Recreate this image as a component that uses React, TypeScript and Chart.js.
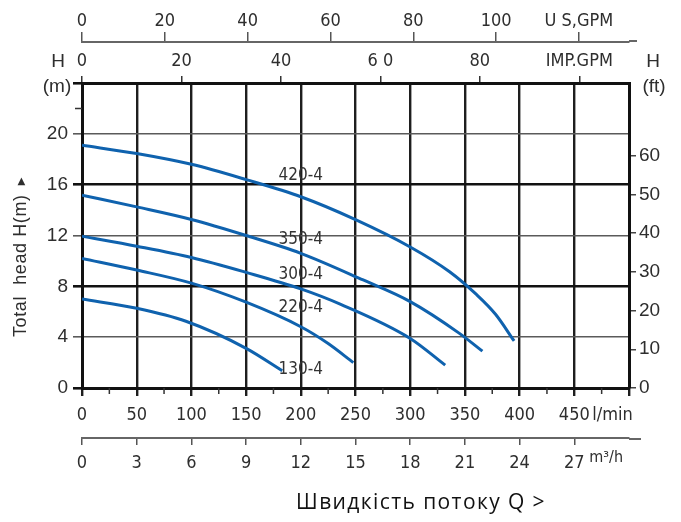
import { useEffect, useRef } from "react";
import { Chart, registerables } from "chart.js";

Chart.register(...registerables);

// ---------- data ----------
const FLOW_MAX_LMIN = 500;
const HEAD_MAX_M = 24;

const LMIN_TICKS = [0, 50, 100, 150, 200, 250, 300, 350, 400, 450, 500];
const LMIN_MINOR_TICKS = [25, 75, 125, 175, 225, 275, 325, 375, 425, 475];
const M3H_TICKS = [0, 3, 6, 9, 12, 15, 18, 21, 24, 27];
const USGPM_TICKS = [0, 20, 40, 60, 80, 100, 120];
const IMPGPM_TICKS = [0, 20, 40, 60, 80, 100];
const HEAD_M_TICKS = [0, 4, 8, 12, 16, 20, 24];
const HEAD_M_MINOR_TICKS = [22];
const HEAD_M_HEAVY = [0, 8, 16, 24];
const HEAD_FT_TICKS = [0, 10, 20, 30, 40, 50, 60];

const M3H_PER_LMIN = 0.06;
const USGPM_PER_LMIN = 0.264172;
const IMPGPM_PER_LMIN = 0.219969;
const FT_PER_M = 3.28084;

const MODELS = ["420-4", "350-4", "300-4", "220-4", "130-4"];

const FLOW_420 = [0, 50, 100, 150, 200, 250, 300, 336, 360, 378, 395];
const HEAD_420 = [19.1, 18.45, 17.6, 16.4, 15.05, 13.25, 11.1, 9.15, 7.4, 5.8, 3.7];

const FLOW_350 = [0, 50, 100, 150, 200, 257, 300, 345, 366];
const HEAD_350 = [15.17, 14.25, 13.26, 12.0, 10.6, 8.5, 6.8, 4.3, 2.9];

const FLOW_300 = [0, 50, 100, 150, 200, 236, 300, 332];
const HEAD_300 = [11.95, 11.16, 10.27, 9.1, 7.8, 6.6, 3.9, 1.8];

const FLOW_220 = [0, 50, 100, 150, 200, 225, 248];
const HEAD_220 = [10.2, 9.28, 8.25, 6.75, 4.82, 3.5, 2.0];

const FLOW_130 = [0, 50, 95, 150, 183];
const HEAD_130 = [7.0, 6.27, 5.25, 3.12, 1.36];

// curve label anchors (flow l/min, head m)
const LABEL_FLOW = [200, 200, 200, 200, 200];
const LABEL_HEAD = [16.75, 11.7, 8.95, 6.3, 1.45];

const TITLE_Y = "Total  head H(m)";
const TITLE_X = "Швидкість потоку Q >";

// ---------- styles ----------
const CURVE_COLOR = "#0f62ae";
const TEXT_COLOR = "#2e2e2e";

function hasFont(name: string): boolean {
  const c = document.createElement("canvas").getContext("2d");
  if (!c) return false;
  const s = "abcdefghijklmnopqrstuvwxyz0123456789";
  c.font = "40px monospace";
  const a = c.measureText(s).width;
  c.font = `40px "${name}", monospace`;
  const b = c.measureText(s).width;
  c.font = "40px serif";
  const d = c.measureText(s).width;
  c.font = `40px "${name}", serif`;
  const e = c.measureText(s).width;
  return a !== b || d !== e;
}

export default function App() {
  const ref = useRef<HTMLCanvasElement>(null);

  useEffect(() => {
    document.body.style.margin = "0";
    const canvas = ref.current;
    if (!canvas) return;

    const narrowCandidates = ["Liberation Sans Narrow", "Arial Narrow", "DejaVu Sans Condensed", "Roboto Condensed"];
    const narrowName = narrowCandidates.find((n) => hasFont(n));
    const NARROW = narrowName ? `"${narrowName}"` : `"Liberation Sans", Arial, sans-serif`;
    const REG = `"Liberation Sans", Arial, sans-serif`;

    const hFont = { family: NARROW, size: 18, lineHeight: 1 };
    const vFont = { family: REG, size: 19, lineHeight: 1 };

    const series = [
      { flow: FLOW_420, head: HEAD_420 },
      { flow: FLOW_350, head: HEAD_350 },
      { flow: FLOW_300, head: HEAD_300 },
      { flow: FLOW_220, head: HEAD_220 },
      { flow: FLOW_130, head: HEAD_130 },
    ];

    const datasets = series.map((s, i) => ({
      label: MODELS[i],
      data: s.flow.map((q, j) => ({ x: q, y: s.head[j] })),
      borderColor: CURVE_COLOR,
      borderWidth: 3,
      pointRadius: 0,
      fill: false,
      tension: 0.4,
      cubicInterpolationMode: "monotone" as const,
      xAxisID: "x",
      yAxisID: "y",
    }));

    const setTicks = (vals: number[]) => (scale: any) => {
      scale.ticks = vals.map((v) => ({ value: v }));
    };

    const decor = {
      id: "decor",
      afterDraw(chart: any) {
        const { ctx, chartArea: a, scales } = chart;
        const sx = scales.x;
        const sy = scales.y;
        const sm3 = scales.xm3;
        const sus = scales.xus;
        ctx.save();

        // minor ticks
        ctx.strokeStyle = "#333";
        ctx.lineWidth = 1.5;
        ctx.beginPath();
        for (const v of LMIN_MINOR_TICKS) {
          const px = sx.getPixelForValue(v);
          ctx.moveTo(px, a.bottom);
          ctx.lineTo(px, a.bottom + 6);
        }
        for (const v of HEAD_M_MINOR_TICKS) {
          const py = sy.getPixelForValue(v);
          ctx.moveTo(a.left, py);
          ctx.lineTo(a.left - 7, py);
        }
        ctx.stroke();

        // extend outer axis lines slightly
        ctx.strokeStyle = "#666";
        ctx.lineWidth = 2;
        ctx.beginPath();
        ctx.moveTo(a.right, sm3.top + 1);
        ctx.lineTo(a.right + 12, sm3.top + 1);
        ctx.moveTo(a.right, sus.bottom - 1);
        ctx.lineTo(a.right + 8, sus.bottom - 1);
        ctx.stroke();

        ctx.fillStyle = TEXT_COLOR;
        ctx.textBaseline = "middle";

        // H (m) / H (ft)
        ctx.font = `19px ${REG}`;
        ctx.textAlign = "center";
        ctx.fillText("H", a.left - 24, a.top - 21);
        ctx.fillText("(m)", a.left - 25, a.top + 4);
        ctx.fillText("H", a.right + 24, a.top - 21);
        ctx.fillText("(ft)", a.right + 25, a.top + 4);

        // unit labels
        ctx.textAlign = "left";
        ctx.font = `18px ${NARROW}`;
        ctx.fillText("l/min", sx.getPixelForValue(450) + 18, a.bottom + 27);
        ctx.font = `16px ${NARROW}`;
        ctx.fillText("m³/h", sm3.getPixelForValue(27) + 15, sm3.top + 20);

        // curve labels
        ctx.textAlign = "center";
        ctx.font = `17px ${NARROW}`;
        ctx.fillStyle = "#333";
        MODELS.forEach((m, i) => {
          ctx.fillText(m, sx.getPixelForValue(LABEL_FLOW[i]), sy.getPixelForValue(LABEL_HEAD[i]));
        });

        // y title (rotated)
        ctx.save();
        ctx.translate(21, 252);
        ctx.rotate(-Math.PI / 2);
        ctx.textAlign = "left";
        ctx.font = `18px ${REG}`;
        (ctx as any).letterSpacing = "0.6px";
        ctx.fillStyle = TEXT_COLOR;
        const start = -85;
        ctx.fillText(TITLE_Y, start, 0);
        const w = ctx.measureText(TITLE_Y).width;
        (ctx as any).letterSpacing = "0px";
        ctx.font = `10px "DejaVu Sans", ${REG}`;
        ctx.fillText("▶", start + w + 9, 0);
        ctx.restore();

        // bottom title
        ctx.textAlign = "center";
        ctx.font = `21px "Open Sans", "Noto Sans", sans-serif`;
        (ctx as any).letterSpacing = "1.4px";
        ctx.fillStyle = "#111";
        ctx.fillText(TITLE_X, 421, 503);

        ctx.restore();
      },
    };

    const chart = new Chart(canvas, {
      type: "line",
      data: { datasets },
      plugins: [decor],
      options: {
        animation: false,
        responsive: false,
        events: [],
        layout: { padding: { top: 0, right: 0, bottom: 42, left: 0 } },
        plugins: {
          legend: { display: false },
          tooltip: { enabled: false },
          title: { display: false },
        },
        scales: {
          x: {
            type: "linear",
            position: "bottom",
            min: 0,
            max: FLOW_MAX_LMIN,
            weight: 0,
            afterBuildTicks: setTicks(LMIN_TICKS),
            afterFit: (s: any) => {
              s.height = 50;
            },
            grid: { color: "#1e1e1e", lineWidth: 2.4, tickLength: 8 },
            border: { color: "#111", width: 3 },
            ticks: {
              font: hFont,
              color: TEXT_COLOR,
              padding: 10,
              maxRotation: 0,
              autoSkip: false,
              callback: (v: any) => (v === FLOW_MAX_LMIN ? "" : String(v)),
            },
          },
          xm3: {
            type: "linear",
            position: "bottom",
            min: 0,
            max: FLOW_MAX_LMIN * M3H_PER_LMIN,
            weight: 1,
            afterBuildTicks: setTicks(M3H_TICKS),
            afterFit: (s: any) => {
              s.height = 42;
            },
            grid: { drawOnChartArea: false, color: "#555", lineWidth: 1.5, tickLength: 7 },
            border: { color: "#666", width: 2 },
            ticks: {
              font: hFont,
              color: TEXT_COLOR,
              padding: 9,
              maxRotation: 0,
              autoSkip: false,
            },
          },
          ximp: {
            type: "linear",
            position: "top",
            min: 0,
            max: FLOW_MAX_LMIN * IMPGPM_PER_LMIN,
            weight: 0,
            afterBuildTicks: setTicks(IMPGPM_TICKS),
            afterFit: (s: any) => {
              s.height = 41;
            },
            grid: { drawOnChartArea: false, color: "#333", lineWidth: 1.5, tickLength: 7 },
            border: { color: "#111", width: 3 },
            ticks: {
              font: hFont,
              color: TEXT_COLOR,
              padding: 6,
              maxRotation: 0,
              autoSkip: false,
              callback: (v: any) => (v === 100 ? "IMP.GPM" : v === 60 ? "6 0" : String(v)),
            },
          },
          xus: {
            type: "linear",
            position: "top",
            min: 0,
            max: FLOW_MAX_LMIN * USGPM_PER_LMIN,
            weight: 1,
            afterBuildTicks: setTicks(USGPM_TICKS),
            afterFit: (s: any) => {
              s.height = 42;
            },
            grid: { drawOnChartArea: false, color: "#555", lineWidth: 1.5, tickLength: 10 },
            border: { color: "#666", width: 2 },
            ticks: {
              font: hFont,
              color: TEXT_COLOR,
              padding: 1.5,
              maxRotation: 0,
              autoSkip: false,
              callback: (v: any) => (v === 120 ? "U S,GPM" : String(v)),
            },
          },
          y: {
            type: "linear",
            position: "left",
            min: 0,
            max: HEAD_MAX_M,
            afterBuildTicks: setTicks(HEAD_M_TICKS),
            afterFit: (s: any) => {
              s.width = 82;
            },
            grid: {
              color: (c: any) => (c.tick && HEAD_M_HEAVY.includes(c.tick.value) ? "#111" : "#5a5a5a"),
              lineWidth: (c: any) => (c.tick && HEAD_M_HEAVY.includes(c.tick.value) ? 2.6 : 1.6),
              tickLength: 9,
            },
            border: { color: "#111", width: 3 },
            ticks: {
              font: vFont,
              color: TEXT_COLOR,
              padding: 5,
              autoSkip: false,
              callback: (v: any) => (v === HEAD_MAX_M ? "" : String(v)),
            },
          },
          yft: {
            type: "linear",
            position: "right",
            min: 0,
            max: HEAD_MAX_M * FT_PER_M,
            afterBuildTicks: setTicks(HEAD_FT_TICKS),
            afterFit: (s: any) => {
              s.width = 52;
            },
            grid: { drawOnChartArea: false, color: "#444", lineWidth: 1.5, tickLength: 7 },
            border: { color: "#111", width: 3 },
            ticks: {
              font: vFont,
              color: TEXT_COLOR,
              padding: 3,
              autoSkip: false,
            },
          },
        },
      } as any,
    });

    return () => chart.destroy();
  }, []);

  return <canvas ref={ref} width={681} height={522} style={{ display: "block" }} />;
}
